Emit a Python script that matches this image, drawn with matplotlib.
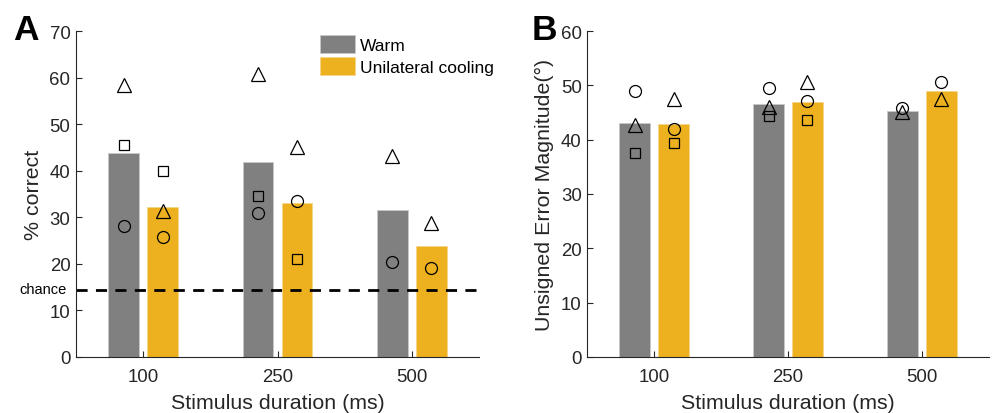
import numpy as np
import matplotlib
matplotlib.use('Agg')
import matplotlib.pyplot as plt

plt.rcParams['font.family'] = ['Liberation Sans', 'DejaVu Sans']

durations = ['100', '250', '500']

# panel A: % correct
acc_warm = [43.9, 41.9, 31.6]
acc_cool = [32.3, 33.1, 23.8]
acc_warm_tri = [58.3, 60.8, 43.1]
acc_warm_sq = [45.6, 34.5, np.nan]
acc_warm_circ = [28.1, 30.9, 20.5]
acc_cool_tri = [31.4, 45.0, 28.7]
acc_cool_sq = [40.0, 21.0, np.nan]
acc_cool_circ = [25.7, 33.4, 19.2]
chance = 100 / 7

# panel B: unsigned error magnitude
err_warm = [43.0, 46.5, 45.2]
err_cool = [42.8, 47.0, 48.9]
err_warm_tri = [42.7, 46.1, 45.0]
err_warm_sq = [37.6, 44.3, np.nan]
err_warm_circ = [48.9, 49.5, 45.8]
err_cool_tri = [47.4, 50.6, 47.4]
err_cool_sq = [39.4, 43.7, np.nan]
err_cool_circ = [42.0, 47.2, 50.7]

gray = '#808080'
yellow = '#EDB120'
axcol = '#262626'
tick_fs = 13.4
label_fs = 15.4

fig = plt.figure(figsize=(9.95, 4.14), dpi=100)
axA = fig.add_axes([0.0764, 0.1353, 0.405, 0.7874])
axB = fig.add_axes([0.5903, 0.1353, 0.4034, 0.7874])

x = np.arange(1, 4)
off = 0.145
w = 0.23


def draw(ax, warm, cool, wt, ws, wc, ct, cs, cc):
    ax.bar(x - off, warm, w, color=gray, edgecolor='#c8c8c8', linewidth=0.6, label='Warm', zorder=1)
    ax.bar(x + off, cool, w, color=yellow, edgecolor='#f5d58a', linewidth=0.6,
           label='Unilateral cooling', zorder=1)
    for xs, t, s, c in [(x - off, wt, ws, wc), (x + off, ct, cs, cc)]:
        ax.plot(xs, t, '^', ms=10, mfc='none', mec='black', mew=0.9, ls='none', zorder=3)
        ax.plot(xs, s, 's', ms=7.2, mfc='none', mec='black', mew=0.9, ls='none', zorder=3)
        ax.plot(xs, c, 'o', ms=8.6, mfc='none', mec='black', mew=0.9, ls='none', zorder=3)
    ax.set_xlim(0.5, 3.5)
    ax.set_xticks(x)
    ax.set_xticklabels(durations)
    ax.set_xlabel('Stimulus duration (ms)', fontsize=label_fs, color=axcol, labelpad=6)
    ax.spines['top'].set_visible(False)
    ax.spines['right'].set_visible(False)
    for sp in ['left', 'bottom']:
        ax.spines[sp].set_color(axcol)
        ax.spines[sp].set_linewidth(0.8)
    ax.tick_params(direction='in', length=4, width=0.8, colors=axcol, labelsize=tick_fs)
    ax.tick_params(axis='x', pad=8)
    ax.tick_params(axis='y', pad=4)


draw(axA, acc_warm, acc_cool, acc_warm_tri, acc_warm_sq, acc_warm_circ,
     acc_cool_tri, acc_cool_sq, acc_cool_circ)
axA.set_ylim(0, 70)
axA.set_yticks(range(0, 71, 10))
axA.set_ylabel('% correct', fontsize=label_fs, color=axcol, labelpad=5)
axA.axhline(chance, color='black', ls=(0, (4, 3)), lw=2, zorder=2, clip_on=False)
axA.annotate('chance', xy=(0, chance), xycoords=axA.get_yaxis_transform(),
             xytext=(-6.5, 1), textcoords='offset points', ha='right', va='center',
             fontsize=10.5, color='black')
axA.legend(loc='upper right', bbox_to_anchor=(1.075, 1.035), frameon=False, fontsize=12.5,
           handlelength=2.0, handleheight=1.2, handletextpad=0.3, labelspacing=0.25)

draw(axB, err_warm, err_cool, err_warm_tri, err_warm_sq, err_warm_circ,
     err_cool_tri, err_cool_sq, err_cool_circ)
axB.set_ylim(0, 60)
axB.set_yticks(range(0, 61, 10))
axB.set_ylabel('Unsigned Error Magnitude(°)', fontsize=label_fs, color=axcol, labelpad=5)

fig.text(0.013, 0.965, 'A', fontsize=25.5, fontweight='bold', va='top', ha='left')
fig.text(0.534, 0.965, 'B', fontsize=25.5, fontweight='bold', va='top', ha='left')

fig.savefig('out.png', dpi=100)
